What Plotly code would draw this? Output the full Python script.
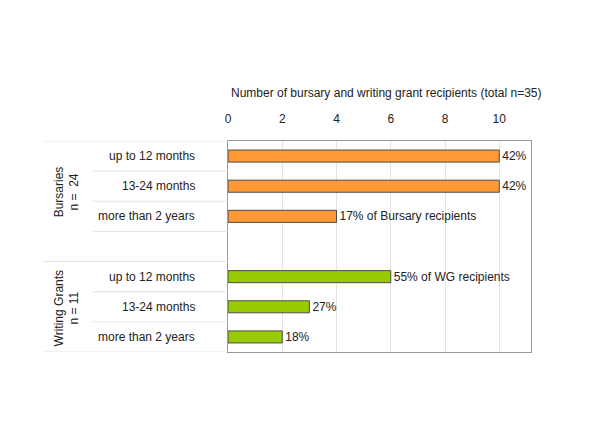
import plotly.graph_objects as go

# rows, top to bottom (empty row separates the two groups)
categories = ["up to 12 months", "13-24 months", "more than 2 years", "",
              "up to 12 months", "13-24 months", "more than 2 years"]
recipients = [10, 10, 4, None, 6, 3, 2]
pct_labels = ["42%", "42%", "17% of Bursary recipients", "",
              "55% of WG recipients", "27%", "18%"]
groups = ["Bursaries<br>n =  24", "Writing Grants<br>n = 11"]
group_rows = [[0, 1, 2], [4, 5, 6]]
x_ticks = [0, 2, 4, 6, 8, 10]

FONT = "Liberation Sans, Arial, sans-serif"
ORANGE = "#FF9933"
GREEN = "#99CC00"
TXT = "#222"

fig = go.Figure()
for rows, col in zip(group_rows, [ORANGE, GREEN]):
    fig.add_trace(go.Bar(
        x=[recipients[i] for i in rows],
        y=rows,
        orientation="h",
        width=0.4,
        marker=dict(color=col, line=dict(color="#4d4d4d", width=1)),
        text=[pct_labels[i] for i in rows],
        textposition="outside",
        constraintext="none",
        textfont=dict(size=12, color=TXT),
        cliponaxis=False,
        showlegend=False,
    ))

# row labels
for i, c in enumerate(categories):
    if c:
        fig.add_annotation(x=-0.102, y=i, xref="paper", yref="y", text=c,
                           showarrow=False, xanchor="right",
                           font=dict(size=12, color=TXT))

# group labels (rotated)
fig.add_annotation(x=-0.531, y=1.2, xref="paper", yref="y", text=groups[0],
                   textangle=-90, showarrow=False, xanchor="center", yanchor="middle",
                   font=dict(size=12, color=TXT))
fig.add_annotation(x=-0.531, y=5.05, xref="paper", yref="y", text=groups[1],
                   textangle=-90, showarrow=False, xanchor="center", yanchor="middle",
                   font=dict(size=12, color=TXT))

# row separator lines
for b in [-0.5, 0.5, 1.5, 2.5, 3.5, 4.5, 5.5, 6.5]:
    x0 = -0.61 if b in (-0.5, 3.5, 6.5) else -0.446
    fig.add_shape(type="line", xref="paper", yref="y", x0=x0, x1=0, y0=b, y1=b,
                  line=dict(color="#e3e3e3", width=1))

fig.add_annotation(x=0.521, y=1.227, xref="paper", yref="paper", yanchor="middle",
                   text="Number of bursary and writing grant recipients (total n=35)",
                   showarrow=False, font=dict(size=12, color=TXT))

# page body keeps its default 8px margin, so the figure sits 8px right/down
fig.update_layout(
    width=600, height=438,
    margin=dict(l=220, r=77, t=133, b=94),
    plot_bgcolor="white", paper_bgcolor="white",
    font=dict(family=FONT, size=12, color=TXT),
)
fig.update_xaxes(side="top", range=[0, 11.17], tickvals=x_ticks,
                 showgrid=True, gridcolor="#e3e3e3", zeroline=False,
                 showline=True, linecolor="#999", mirror=True,
                 ticks="", ticklabelstandoff=12, tickfont=dict(size=12, color=TXT))
fig.update_yaxes(range=[6.5, -0.5], showticklabels=False, showgrid=False,
                 zeroline=False, showline=True, linecolor="#999", mirror=True)

fig.write_html("out.html")
